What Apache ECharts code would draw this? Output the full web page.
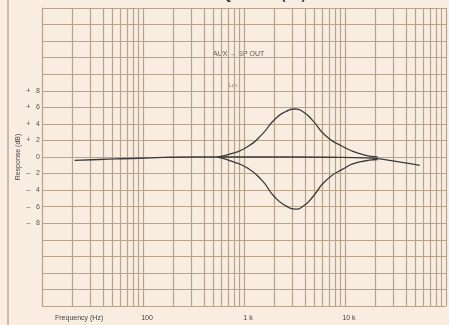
<!DOCTYPE html>
<html>
<head>
<meta charset="utf-8">
<script src="https://cdn.jsdelivr.net/npm/echarts@6/dist/echarts.min.js"></script>
<style>
  html, body {margin: 0; padding: 0; background: #f8ede0;}
  #chart {width: 449px; height: 325px;}
</style>
</head>
<body>
<div id="chart"></div>
<script>
// flat response (Hz, dB)
const flatFreq = [21, 37, 90, 350, 3000, 15800, 21000, 31000, 55000]
const flatDb = [-0.4, -0.3, -0.15, 0, 0, -0.1, -0.2, -0.5, -1.0]
// max boost
const boostFreq = [550, 750, 1070, 1500, 2000, 2600, 3200, 3900, 4800, 6400, 9400, 14000, 21000]
const boostDb = [0, 0.4, 1.2, 2.7, 4.5, 5.5, 5.8, 5.4, 4.4, 2.6, 1.3, 0.4, 0]
// max cut
const cutFreq = [550, 750, 1070, 1500, 2000, 2600, 3200, 3900, 4800, 6400, 9400, 14000, 21000]
const cutDb = [0, -0.5, -1.3, -2.8, -4.8, -5.9, -6.3, -5.9, -4.8, -2.9, -1.5, -0.6, -0.3]
// minor frequency grid lines
const minorFreq = [
    20, 30, 40, 50, 60, 70, 80, 90,
    200, 300, 400, 500, 600, 700, 800, 900,
    2000, 3000, 4000, 5000, 6000, 7000, 8000, 9000,
    20000, 30000, 40000, 50000, 60000, 70000, 80000, 90000
]
const xLabels = {100: '100', 1000: '1 k', 10000: '10 k'}

const gridColor = '#b6a48c'
const inkColor = '#3a3a3a'

const zip = (xs, ys) => xs.map((x, i) => [x, ys[i]])

const myChart = echarts.init(document.getElementById('chart'))
const option = {
    backgroundColor: '#f8ede0',
    animation: false,
    grid: {left: 42, right: -3, top: 8, bottom: 19},
    xAxis: {
        type: 'log',
        logBase: 10,
        min: 10,
        max: 100000,
        axisLine: {show: true, lineStyle: {color: gridColor}},
        axisTick: {show: false},
        splitLine: {show: true, lineStyle: {color: gridColor, width: 1.2}},
        axisLabel: {
            fontSize: 7,
            color: '#444',
            margin: 9,
            padding: [0, 0, 0, 8],
            formatter: v => xLabels[Math.round(v)] || ''
        }
    },
    yAxis: {
        type: 'value',
        min: -18,
        max: 18,
        interval: 2,
        axisLine: {show: true, lineStyle: {color: gridColor}},
        axisTick: {show: false},
        splitLine: {lineStyle: {color: gridColor, width: 1.2}},
        axisLabel: {
            fontSize: 7,
            color: '#555',
            margin: 2,
            formatter: v => {
                if (Math.abs(v) > 8) return ''
                if (v > 0) return '+   ' + v
                if (v < 0) return '–   ' + Math.abs(v)
                return '0'
            }
        }
    },
    graphic: [
        {type: 'line', shape: {x1: 8, y1: 0, x2: 8, y2: 325}, style: {stroke: '#9a8a74', lineWidth: 1}},
        {type: 'text', left: 196, top: -11, style: {text: 'FREQUENCY (Hz)', fontSize: 13, fontWeight: 'bold', fill: '#333'}},
        {type: 'text', left: 213, top: 51, style: {text: 'AUX → SP OUT', fontSize: 7, fill: '#555'}},
        {type: 'text', left: 229, top: 83, style: {text: 'Lch', fontSize: 5, fill: '#777'}},
        {type: 'text', left: 55, top: 315, style: {text: 'Frequency (Hz)', fontSize: 7, fill: '#444'}},
        {
            type: 'text', x: 18, y: 157, rotation: Math.PI / 2,
            style: {text: 'Response (dB)', fontSize: 7, fill: '#444', align: 'center', verticalAlign: 'middle'}
        }
    ],
    series: [
        {
            name: 'flat',
            type: 'line',
            data: zip(flatFreq, flatDb),
            markLine: {
                silent: true,
                symbol: 'none',
                label: {show: false},
                lineStyle: {color: gridColor, type: 'solid', width: 1.2},
                data: minorFreq.map(f => ({xAxis: f}))
            }
        },
        {name: 'boost', type: 'line', data: zip(boostFreq, boostDb)},
        {name: 'cut', type: 'line', data: zip(cutFreq, cutDb)}
    ].map(obj => {
        return {
            ...obj,
            smooth: 0.6,
            showSymbol: false,
            lineStyle: {color: inkColor, width: 1.3},
            z: 5
        }
    })
}
myChart.setOption(option)
</script>
</body>
</html>
